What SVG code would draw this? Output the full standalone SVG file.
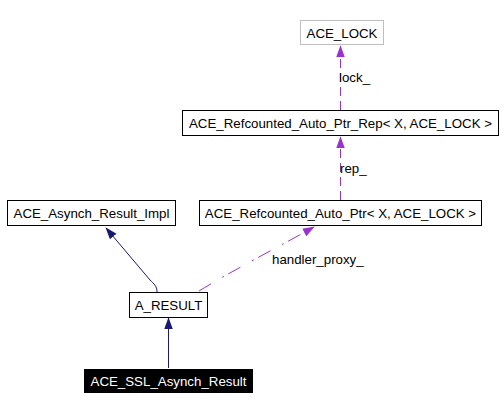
<svg xmlns="http://www.w3.org/2000/svg" width="504" height="411" viewBox="0 0 504 411">
<defs>
<style>
.box{fill:#fff;stroke:#000;stroke-width:1}
.t{font-family:"Liberation Sans",Arial,sans-serif;font-size:13.3px;text-anchor:middle;fill:#000}
.lbl{font-family:"Liberation Sans",Arial,sans-serif;font-size:13.3px;fill:#000}
.use{fill:none;stroke:#9a32cd;stroke-width:1;stroke-dasharray:9,5}
.use2{fill:none;stroke:#9a32cd;stroke-width:1;stroke-dasharray:14,13,2,5}
.inh{fill:none;stroke:#191970;stroke-width:1}
</style>
<marker id="mp" markerUnits="userSpaceOnUse" markerWidth="12" markerHeight="14" refX="13" refY="5" orient="auto" viewBox="0 0 14 10">
<path d="M0,0 L14,5 L0,10 Z" fill="#9a32cd"/>
</marker>
<marker id="mb" markerUnits="userSpaceOnUse" markerWidth="12" markerHeight="14" refX="13" refY="5" orient="auto" viewBox="0 0 14 10">
<path d="M0,0 L14,5 L0,10 Z" fill="#191970"/>
</marker>
</defs>
<rect width="504" height="411" fill="#fff"/>
<g id="connectors">
<path class="use" d="M340.5,200 L340.5,137" marker-end="url(#mp)"/>
<path class="use" d="M340.5,110 L340.5,46" marker-end="url(#mp)"/>
<path class="use2" d="M199,291 C230,272 280,246 314,227" marker-end="url(#mp)"/>
<path class="inh" d="M157,292 C157,286 154,284 150,280 L106,228" marker-end="url(#mb)"/>
<path class="inh" d="M168.5,368 L168.5,318" marker-end="url(#mb)"/>
<text class="lbl" x="339" y="82">lock_</text>
<text class="lbl" x="340" y="173">rep_</text>
<text class="lbl" x="272" y="264">handler_proxy_</text>
</g>
<g id="ACE_LOCK">
<rect x="300.5" y="20.5" width="83" height="24" fill="#fff" stroke="#bfbfbf"/>
<text class="t" x="342" y="38">ACE_LOCK</text>
</g>
<g id="ACE_Refcounted_Auto_Ptr_Rep">
<rect class="box" x="182.5" y="110.5" width="316" height="25"/>
<text class="t" x="340.5" y="128">ACE_Refcounted_Auto_Ptr_Rep&lt; X, ACE_LOCK &gt;</text>
</g>
<g id="ACE_Asynch_Result_Impl">
<rect class="box" x="7.5" y="200.5" width="168" height="25"/>
<text class="t" x="91.5" y="218">ACE_Asynch_Result_Impl</text>
</g>
<g id="ACE_Refcounted_Auto_Ptr">
<rect class="box" x="199.5" y="200.5" width="282" height="25"/>
<text class="t" x="340.5" y="218">ACE_Refcounted_Auto_Ptr&lt; X, ACE_LOCK &gt;</text>
</g>
<g id="A_RESULT">
<rect class="box" x="129.5" y="292.5" width="78" height="25"/>
<text class="t" x="168.5" y="310">A_RESULT</text>
</g>
<g id="ACE_SSL_Asynch_Result">
<rect x="84" y="369" width="169" height="24" fill="#000"/>
<text class="t" x="168.5" y="386" fill="#fff" style="fill:#fff">ACE_SSL_Asynch_Result</text>
</g>
</svg>
